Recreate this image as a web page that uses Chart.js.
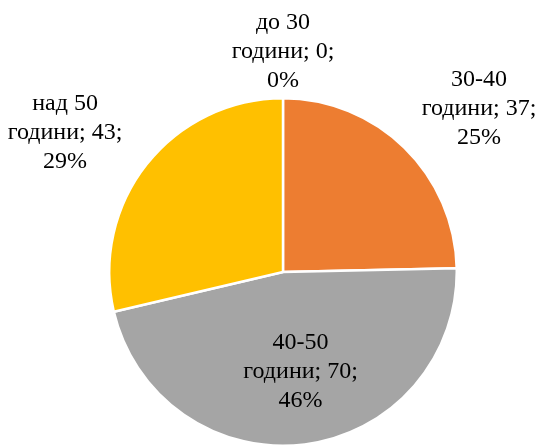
<!DOCTYPE html>
<html>
<head>
<meta charset="utf-8">
<script src="https://cdn.jsdelivr.net/npm/chart.js@4/dist/chart.umd.min.js"></script>
<style>
  html, body { margin: 0; padding: 0; background: #fff; }
  #wrap { width: 540px; height: 447px; }
</style>
</head>
<body>
<div id="wrap"><canvas id="pie"></canvas></div>
<script>
const groups = ['до 30', '30-40', '40-50', 'над 50']
const counts = [0, 37, 70, 43]
const percents = ['0%', '25%', '46%', '29%']
const colors = ['#4472C4', '#ED7D31', '#A5A5A5', '#FFC000']

// data labels: "група / години; N; / P%" around each slice
const sliceLabels = {
  id: 'sliceLabels',
  afterDatasetsDraw(chart, args, opts) {
    const { ctx } = chart
    const arcs = chart.getDatasetMeta(0).data
    ctx.save()
    ctx.font = opts.font
    ctx.fillStyle = '#000'
    ctx.textAlign = 'center'
    ctx.textBaseline = 'middle'
    arcs.forEach((arc, i) => {
      const { x, y, startAngle, endAngle, outerRadius } = arc.getProps(['x', 'y', 'startAngle', 'endAngle', 'outerRadius'], true)
      const mid = (startAngle + endAngle) / 2 + opts.angleShift[i]
      const r = outerRadius * opts.radius[i]
      const cx = x + Math.cos(mid) * r
      const cy = y + Math.sin(mid) * r
      const lines = [groups[i], 'години; ' + counts[i] + ';', percents[i]]
      lines.forEach((s, k) => {
        ctx.fillText(s, cx, cy + (k - 1) * opts.lineHeight)
      })
    })
    ctx.restore()
  }
}

new Chart(document.getElementById('pie'), {
  type: 'pie',
  data: {
    labels: groups,
    datasets: [{
      data: counts,
      backgroundColor: colors,
      borderColor: '#fff',
      borderWidth: 2.5
    }]
  },
  options: {
    responsive: true,
    maintainAspectRatio: false,
    animation: false,
    layout: { padding: { left: 108, right: 82, top: 97, bottom: 0 } },
    plugins: {
      legend: { display: false },
      tooltip: { enabled: false },
      sliceLabels: {
        font: '24px "Liberation Serif", "Times New Roman", serif',
        lineHeight: 29,
        radius: [1.27, 1.47, 0.58, 1.49],
        angleShift: [0, 0.1, -0.05, -0.1]
      }
    }
  },
  plugins: [sliceLabels]
})
</script>
</body>
</html>
